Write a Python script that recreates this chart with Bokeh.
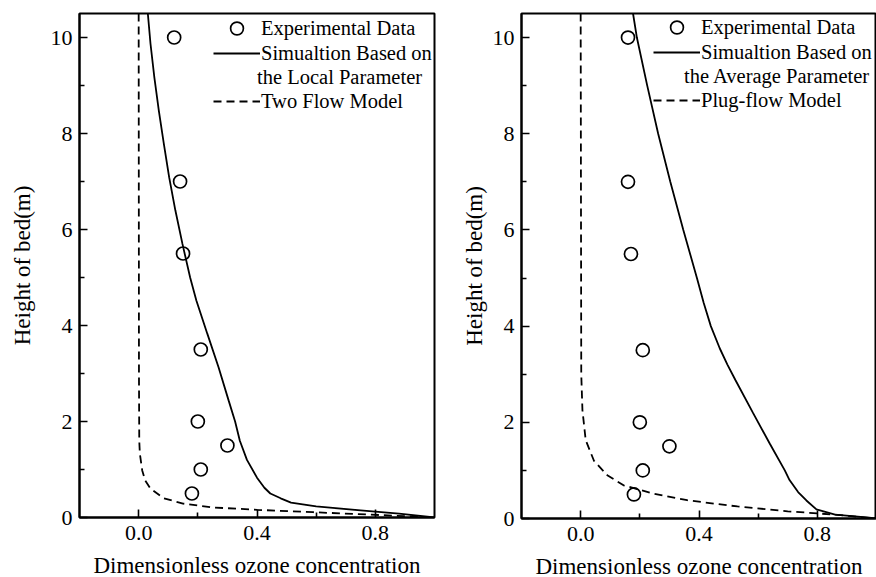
from bokeh.plotting import figure
from bokeh.layouts import row
from bokeh.models import Legend, LegendItem, Range1d, FixedTicker
from bokeh.embed import file_html
from bokeh.resources import INLINE

# ---- data ----
x_ticks = [0.0, 0.4, 0.8]
x_minor = [0.2, 0.6]
y_ticks = [0, 2, 4, 6, 8, 10]
y_minor = [1, 3, 5, 7, 9]

exp_y = [10, 7, 5.5, 3.5, 2, 1.5, 1, 0.5]
exp_x_left = [0.12, 0.14, 0.15, 0.21, 0.20, 0.30, 0.21, 0.18]
exp_x_right = [0.16, 0.16, 0.17, 0.21, 0.20, 0.30, 0.21, 0.18]

local_y = [10.5, 9.87, 9.17, 8.48, 7.79, 7.09, 6.4, 5.7, 5.0, 4.52, 3.83, 3.13, 2.44, 2.0, 1.6, 1.2, 0.83, 0.62, 0.5, 0.4, 0.31, 0.23, 0.15, 0.08, 0]
local_x = [0.031, 0.040, 0.053, 0.068, 0.085, 0.103, 0.124, 0.148, 0.174, 0.195, 0.232, 0.270, 0.304, 0.326, 0.342, 0.366, 0.40, 0.425, 0.445, 0.48, 0.515, 0.60, 0.75, 0.88, 1.0]

twoflow_y = [10.5, 3.0, 1.6, 1.33, 0.98, 0.77, 0.6, 0.4, 0.29, 0.21, 0.16, 0.11, 0.05, 0]
twoflow_x = [0.0, 0.001, 0.002, 0.004, 0.012, 0.022, 0.04, 0.085, 0.15, 0.25, 0.40, 0.59, 0.82, 1.0]

avg_y = [10.5, 10, 9, 8, 7, 6, 5, 4.48, 4, 3.54, 3.2, 2.88, 2.19, 1.56, 1.0, 0.8, 0.55, 0.375, 0.19, 0.08, 0.02, 0]
avg_x = [0.177, 0.19, 0.225, 0.262, 0.303, 0.347, 0.393, 0.416, 0.440, 0.470, 0.496, 0.523, 0.583, 0.639, 0.69, 0.706, 0.735, 0.763, 0.797, 0.86, 0.975, 1.0]

plug_y = [10.5, 3.0, 2.25, 1.63, 1.2, 0.9, 0.69, 0.52, 0.38, 0.25, 0.15, 0.08, 0]
plug_x = [0.0, 0.002, 0.006, 0.017, 0.045, 0.09, 0.145, 0.245, 0.36, 0.53, 0.70, 0.86, 1.0]

FONT = "'Liberation Serif', 'Times New Roman', serif"


def style_legend(lg, gw, gh):
    lg.background_fill_alpha = 0
    lg.border_line_alpha = 0
    lg.padding = 0
    lg.margin = 0
    lg.spacing = 0
    lg.glyph_width = gw
    lg.glyph_height = gh
    lg.label_standoff = 1
    lg.label_text_font = FONT
    lg.label_text_font_size = "20.5px"
    lg.label_text_color = "black"
    lg.label_height = 24


def make_panel(exp_x, sim_x, sim_y, mod_x, mod_y, sim_label1, sim_label2, mod_label,
               border_left, border_right, border_top, border_bottom,
               fw, fh, ytitle_standoff, legend_x, row1_center, line2_x):
    p = figure(frame_width=fw, frame_height=fh,
               min_border_left=border_left, min_border_right=border_right,
               min_border_top=border_top, min_border_bottom=border_bottom,
               x_range=Range1d(-0.2, 1.0), y_range=Range1d(0, 10.5),
               output_backend="svg", toolbar_location=None)
    p.grid.visible = False
    p.background_fill_color = "white"
    p.border_fill_color = "white"
    p.outline_line_color = "black"
    p.outline_line_width = 2
    p.outline_line_alpha = 1.0

    p.xaxis.ticker = FixedTicker(ticks=x_ticks, minor_ticks=x_minor)
    p.yaxis.ticker = FixedTicker(ticks=y_ticks, minor_ticks=y_minor)
    for ax in (p.xaxis[0], p.yaxis[0]):
        ax.axis_line_color = "black"
        ax.axis_line_width = 2
        ax.major_tick_line_color = "black"
        ax.minor_tick_line_color = "black"
        ax.major_tick_line_width = 1.6
        ax.minor_tick_line_width = 1.6
        ax.major_tick_in = 8
        ax.major_tick_out = 0
        ax.minor_tick_in = 5
        ax.minor_tick_out = 0
        ax.major_label_text_font = FONT
        ax.major_label_text_font_size = "22px"
        ax.major_label_text_color = "black"
        ax.axis_label_text_font = FONT
        ax.axis_label_text_font_size = "23px"
        ax.axis_label_text_font_style = "normal"
        ax.axis_label_text_color = "black"
    p.xaxis.major_label_overrides = {0.0: "0.0", 0.4: "0.4", 0.8: "0.8"}
    p.xaxis.major_label_standoff = 8
    p.yaxis.major_label_standoff = 7
    p.xaxis.axis_label = "Dimensionless ozone concentration"
    p.yaxis.axis_label = "Height of bed(m)"
    p.xaxis.axis_label_standoff = 10
    p.yaxis.axis_label_standoff = ytitle_standoff

    r_mod = p.line(mod_x, mod_y, line_color="black", line_width=1.8, line_dash="8 5")
    r_sim = p.line(sim_x, sim_y, line_color="black", line_width=1.8)
    r_exp = p.scatter(exp_x, exp_y, marker="circle", size=13, fill_color=None,
                      line_color="black", line_width=1.7)
    # legend-only placeholder (draws nothing) for the continuation line of a label
    r_blank = p.line([], [], line_alpha=0)

    lg1 = Legend(items=[LegendItem(label="Experimental Data", renderers=[r_exp])],
                 location=(legend_x, fh - row1_center - 16))
    style_legend(lg1, 47, 32)
    lg2 = Legend(items=[
        LegendItem(label=sim_label1, renderers=[r_sim]),
        LegendItem(label=" ", renderers=[r_blank]),
        LegendItem(label=mod_label, renderers=[r_mod]),
    ], location=(legend_x, fh - row1_center - 13 - 72))
    style_legend(lg2, 47, 20)
    lg3 = Legend(items=[LegendItem(label=sim_label2, renderers=[r_blank])],
                 location=(line2_x, fh - row1_center - 13 - 48))
    style_legend(lg3, 1, 20)
    p.add_layout(lg1, "center")
    p.add_layout(lg2, "center")
    p.add_layout(lg3, "center")
    return p


p1 = make_panel(exp_x_left, local_x, local_y, twoflow_x, twoflow_y,
                "Simualtion Based on", "the Local Parameter", "Two Flow Model",
                79, 8, 13, 60, 355, 504, 13, 134, 15, 176)
p2 = make_panel(exp_x_right, avg_x, avg_y, plug_x, plug_y,
                "Simualtion Based on", "the Average Parameter", "Plug-flow Model",
                79, 0, 10, 62, 355, 505, 3, 132, 14, 161)

layout = row(p1, p2)
open("out.html", "w").write(file_html(layout, INLINE))
